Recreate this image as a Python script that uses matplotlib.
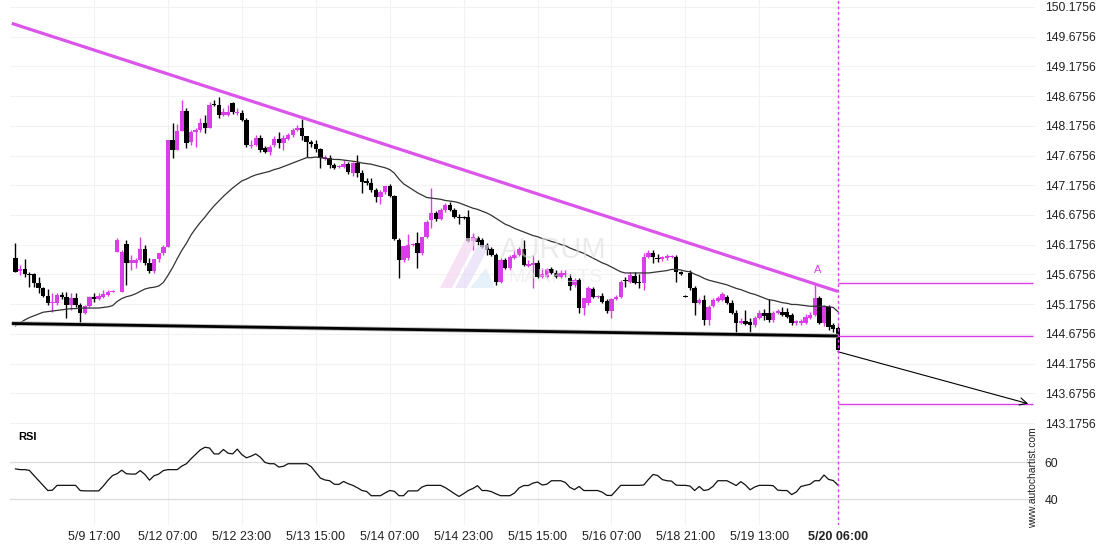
import matplotlib
matplotlib.use('Agg')
import matplotlib.pyplot as plt
from matplotlib.patches import Polygon
import numpy as np

plt.rcParams['font.family'] = ['Liberation Sans', 'DejaVu Sans']

# ---------------- data (hourly bars) ----------------
opens = [145.95,145.73,145.77,145.68,145.68,145.53,145.45,145.31,145.19,145.19,
145.33,145.30,145.16,145.28,145.16,145.03,145.14,145.30,145.26,145.30,
145.33,145.38,146.05,145.38,146.19,145.87,145.87,145.92,146.10,145.87,
145.73,145.94,146.04,146.14,147.94,147.77,148.09,148.43,147.90,148.07,
148.11,148.22,148.14,148.54,148.53,148.36,148.36,148.56,148.39,148.39,
148.27,147.84,147.85,147.97,147.80,147.74,147.85,147.95,147.89,147.95,
148.02,148.11,148.14,148.00,147.90,147.87,147.79,147.62,147.63,147.52,
147.48,147.48,147.53,147.38,147.55,147.38,147.25,147.21,147.10,146.98,
147.06,147.16,146.99,146.26,145.92,145.95,146.17,146.20,146.04,146.30,
146.59,146.71,146.61,146.76,146.84,146.76,146.64,146.64,146.64,146.24,
146.29,146.26,146.17,146.10,146.00,145.55,145.92,145.78,145.95,146.00,
146.10,145.82,145.83,145.87,145.63,145.63,145.77,145.70,145.63,145.67,
145.62,145.50,145.58,145.11,145.19,145.43,145.30,145.31,145.23,145.06,
145.26,145.30,145.58,145.55,145.65,145.55,145.53,145.97,146.04,145.95,
145.94,145.95,145.97,145.97,145.72,145.31,145.70,145.45,145.19,145.25,
144.91,145.14,145.23,145.25,145.30,145.19,145.03,144.86,144.89,144.88,
144.82,144.94,145.03,145.03,144.91,145.03,145.04,145.04,144.99,144.86,
144.86,144.86,144.94,144.99,145.28,144.86,145.13,144.82,144.77]

highs = [146.20,145.83,145.94,145.72,145.70,145.63,145.46,145.43,145.36,145.36,
145.38,145.38,145.36,145.36,145.19,145.16,145.31,145.36,145.36,145.41,
145.41,145.41,146.29,146.09,146.26,146.00,145.95,146.30,146.17,145.95,
145.88,146.00,146.17,147.94,148.22,148.21,148.61,148.48,148.11,148.14,
148.31,148.36,148.58,148.61,148.66,148.48,148.53,148.58,148.48,148.44,
148.31,147.94,148.02,148.02,147.84,147.85,148.00,148.07,148.02,148.05,
148.14,148.19,148.29,148.00,147.94,147.94,147.80,147.69,147.69,147.55,
147.52,147.60,147.57,147.57,147.69,147.43,147.30,147.30,147.13,147.10,
147.16,147.20,147.01,146.29,146.15,146.36,146.20,146.39,146.30,146.59,
147.13,146.74,146.79,146.88,146.89,146.79,146.69,146.66,146.76,146.37,
146.32,146.29,146.20,146.14,146.04,145.95,145.95,146.00,146.09,146.14,
146.26,145.92,146.00,145.92,145.78,145.78,145.80,145.75,145.75,145.75,
145.68,145.62,145.62,145.28,145.48,145.46,145.33,145.36,145.26,145.28,
145.33,145.58,145.63,145.72,145.72,145.68,146.04,146.09,146.09,146.02,
145.99,146.02,146.00,146.00,145.73,145.33,145.75,145.48,145.28,145.33,
145.16,145.28,145.31,145.38,145.33,145.25,145.08,144.94,145.08,144.94,
144.98,145.08,145.09,145.26,145.06,145.09,145.13,145.11,145.03,144.91,
144.93,145.01,145.04,145.53,145.31,145.16,145.16,144.86,144.81]

lows = [145.72,145.67,145.63,145.46,145.46,145.36,145.30,145.16,145.04,145.16,
145.26,144.94,145.08,145.13,144.84,145.01,145.13,145.21,145.25,145.28,
145.31,145.38,146.05,145.38,145.50,145.75,145.78,145.88,145.83,145.70,
145.70,145.88,146.00,146.14,147.63,147.77,148.09,147.80,147.85,147.82,
148.07,148.06,148.14,148.51,148.31,148.34,148.34,148.37,148.36,148.26,
147.82,147.80,147.84,147.74,147.72,147.69,147.82,147.80,147.77,147.94,
147.99,148.09,147.94,147.65,147.82,147.74,147.47,147.60,147.47,147.45,
147.47,147.47,147.37,147.33,147.32,147.05,147.18,147.06,146.89,146.86,
147.03,146.98,146.26,145.62,145.88,145.92,146.15,145.78,146.00,146.29,
146.46,146.57,146.59,146.73,146.74,146.62,146.52,146.61,146.22,146.09,
146.17,146.12,146.00,145.99,145.50,145.53,145.77,145.75,145.94,145.99,
145.82,145.80,145.45,145.62,145.62,145.62,145.68,145.62,145.62,145.63,
145.41,145.46,145.03,144.99,145.16,145.28,145.28,145.19,145.03,144.94,
145.25,145.28,145.46,145.53,145.51,145.45,145.41,145.95,145.87,145.88,
145.90,145.92,145.95,145.55,145.67,145.30,145.41,144.99,145.18,144.82,
144.82,145.13,145.21,145.23,145.18,145.01,144.69,144.84,144.82,144.71,
144.79,144.93,144.91,144.88,144.88,145.01,144.98,144.94,144.82,144.82,
144.82,144.84,144.93,144.98,144.84,144.81,144.74,144.71,144.40]

closes = [145.72,145.77,145.68,145.67,145.53,145.45,145.31,145.19,145.21,145.33,
145.30,145.16,145.28,145.16,145.03,145.14,145.30,145.26,145.31,145.35,
145.38,145.40,146.26,146.05,145.87,145.92,145.92,146.10,145.87,145.73,
145.94,146.04,146.14,147.94,147.77,148.09,148.43,147.89,148.07,148.11,
148.22,148.14,148.53,148.53,148.36,148.41,148.41,148.41,148.41,148.27,
147.85,147.85,147.97,147.77,147.74,147.82,147.95,147.89,147.97,148.02,
148.11,148.14,148.00,147.90,147.87,147.79,147.63,147.65,147.52,147.47,
147.50,147.53,147.40,147.55,147.38,147.23,147.21,147.10,146.98,147.06,
147.16,146.99,146.27,145.92,146.15,146.17,146.19,146.04,146.30,146.56,
146.71,146.61,146.76,146.84,146.76,146.64,146.63,146.62,146.24,146.30,
146.22,146.14,146.09,146.00,145.55,145.92,145.78,145.97,146.00,146.10,
145.83,145.85,145.87,145.63,145.68,145.77,145.70,145.63,145.70,145.70,
145.48,145.58,145.11,145.28,145.45,145.30,145.31,145.21,145.06,145.26,
145.30,145.55,145.57,145.67,145.53,145.53,145.97,146.04,145.97,145.94,
145.97,145.99,145.99,145.72,145.68,145.30,145.45,145.19,145.25,144.91,
145.13,145.25,145.28,145.35,145.19,145.03,144.86,144.89,144.84,144.82,
144.94,145.03,144.98,144.91,145.03,145.06,144.99,144.96,144.86,144.89,
144.89,144.96,144.99,145.28,144.86,145.13,144.79,144.76,144.40]

moving_avg = [144.81,144.86,144.91,144.95,144.98,145.01,145.04,145.05,145.06,145.07,
145.08,145.09,145.10,145.10,145.11,145.11,145.11,145.11,145.11,145.12,
145.13,145.15,145.22,145.27,145.30,145.32,145.35,145.39,145.43,145.45,
145.46,145.48,145.54,145.66,145.79,145.94,146.08,146.20,146.34,146.45,
146.55,146.64,146.74,146.83,146.91,146.99,147.06,147.13,147.19,147.25,
147.28,147.32,147.35,147.37,147.39,147.41,147.44,147.46,147.49,147.52,
147.55,147.58,147.61,147.64,147.64,147.65,147.64,147.63,147.62,147.61,
147.61,147.60,147.59,147.58,147.57,147.55,147.54,147.53,147.51,147.49,
147.47,147.44,147.38,147.28,147.20,147.15,147.10,147.05,147.01,146.97,
146.96,146.95,146.94,146.92,146.91,146.90,146.88,146.85,146.82,146.79,
146.77,146.74,146.71,146.67,146.62,146.57,146.52,146.49,146.45,146.42,
146.39,146.36,146.33,146.31,146.28,146.26,146.23,146.21,146.18,146.16,
146.12,146.09,146.06,146.03,145.99,145.95,145.91,145.87,145.84,145.80,
145.76,145.72,145.70,145.70,145.70,145.70,145.70,145.70,145.71,145.72,
145.73,145.74,145.76,145.76,145.75,145.73,145.72,145.68,145.65,145.61,
145.58,145.56,145.54,145.52,145.50,145.47,145.44,145.42,145.39,145.36,
145.34,145.31,145.28,145.25,145.24,145.22,145.20,145.19,145.17,145.17,
145.16,145.15,145.14,145.14,145.14,145.14,145.13,145.12,145.05]

rsi = [56.3,55.9,55.9,55.5,52.7,50.0,47.3,44.6,44.8,47.4,
47.4,47.4,47.4,47.4,44.6,44.4,44.4,44.4,44.4,47.0,
50.1,52.7,53.7,55.6,53.7,53.5,53.5,55.4,53.3,50.2,
52.6,53.5,55.4,55.9,55.9,55.9,57.8,59.1,61.8,64.2,
66.6,68.0,67.6,64.4,64.4,66.8,64.8,64.4,67.0,64.0,
62.3,63.2,64.4,62.6,59.8,59.1,59.1,57.3,57.7,59.1,
59.1,59.1,59.1,59.1,57.5,54.4,51.3,50.3,49.9,48.0,
47.9,49.5,48.3,47.4,46.1,44.6,44.1,41.8,41.8,41.8,
43.3,44.6,44.2,41.8,41.8,44.4,44.4,44.4,46.5,47.4,
47.4,47.4,47.4,46.2,44.6,42.9,41.4,42.9,44.6,45.7,
47.2,44.6,44.6,44.0,42.8,41.8,41.8,41.8,43.2,46.0,
47.3,47.3,48.6,49.2,47.6,48.0,49.9,49.9,49.9,49.0,
46.3,45.1,46.8,44.6,44.6,44.6,44.6,43.7,42.0,41.9,
44.6,47.4,47.4,47.4,47.4,47.4,47.6,50.6,53.3,52.7,
50.5,49.9,49.7,47.5,47.4,47.4,47.0,44.6,46.8,44.6,
45.1,46.9,49.9,49.9,49.9,48.6,47.3,49.4,47.6,45.0,
46.5,47.4,47.4,47.4,47.2,44.8,44.6,44.6,42.4,43.8,
46.8,47.4,48.0,49.9,49.9,53.0,50.6,50.0,47.6]

# x tick labels (bar index -> time label)
xtick_bars = [17, 33, 49, 65, 81, 97, 113, 129, 145, 161, 178]
xtick_labels = ['5/9 17:00', '5/12 07:00', '5/12 23:00', '5/13 15:00', '5/14 07:00',
                '5/14 23:00', '5/15 15:00', '5/16 07:00', '5/18 21:00', '5/19 13:00',
                '5/20 06:00']
ytick_values = [143.1756, 143.6756, 144.1756, 144.6756, 145.1756, 145.6756, 146.1756,
                146.6756, 147.1756, 147.6756, 148.1756, 148.6756, 149.1756, 149.6756,
                150.1756]
rsi_ticks = [40, 60]

# pattern (triangle) lines and forecast
resistance_x = [-0.8, 178]
resistance_y = [149.90, 145.39]
support_x = [-0.8, 178]
support_y = [144.85, 144.64]
breakout_bar = 178
level_A = 145.53
level_break = 144.64
level_target = 143.50
forecast_start = (178, 144.375)
forecast_end = (219.2, 143.50)
level_end_bar = 220.2
point_A = (173.7, 145.75)

# ---------------- drawing ----------------
W, H = 1110, 550
MAG = '#d93ee8'
RES = '#dc55ea'

fig = plt.figure(figsize=(W / 100, H / 100), dpi=100)
fig.patch.set_facecolor('white')

ax = fig.add_axes([10 / W, 1 - 431 / H, 1025 / W, 431 / H])
axr = fig.add_axes([10 / W, 1 - 525 / H, 1025 / W, 94 / H], sharex=ax)

o = np.array(opens); h = np.array(highs); l = np.array(lows); c = np.array(closes)
idx = np.arange(len(c))
cols = np.where(c >= o, MAG, '#000000')

# candles
ax.vlines(idx, l, h, colors=cols, lw=1.0, zorder=3)
body_bottom = np.minimum(o, c)
body_h = np.maximum(np.abs(c - o), 0.014)
ax.bar(idx, body_h, bottom=body_bottom, width=0.95, color=cols, linewidth=0, zorder=3)

# moving average
ax.plot(idx, moving_avg, color='#333333', lw=0.9, zorder=4)

# triangle lines
ax.plot(resistance_x, resistance_y, color=RES, lw=2.3, solid_capstyle='butt', zorder=5)
ax.plot(support_x, support_y, color='#b8b8b8', lw=3.2, solid_capstyle='butt', zorder=5)
ax.plot(support_x, support_y, color='#000000', lw=2.0, solid_capstyle='butt', zorder=6)

# levels
ax.hlines([level_A, level_break, level_target], breakout_bar, level_end_bar,
          color=MAG, lw=1.0, zorder=5)
ax.annotate('', xy=forecast_end, xytext=forecast_start,
            arrowprops=dict(arrowstyle='->', color='black', lw=0.8,
                            shrinkA=0, shrinkB=0, mutation_scale=13), zorder=6)
ax.text(point_A[0], point_A[1], 'A', color=MAG, fontsize=8, ha='center', va='center')

for a in (ax, axr):
    a.axvline(breakout_bar, color=MAG, lw=1.0, ls=(0, (2, 2)), zorder=7)
    for s in a.spines.values():
        s.set_visible(False)

ax.set_xlim(-1.19, 220.67)
ax.set_ylim(143.041, 150.293)
ax.set_yticks(ytick_values)
ax.set_yticklabels(['%.4f' % v for v in ytick_values])
ax.yaxis.tick_right()
ax.tick_params(axis='y', length=0, pad=7, labelsize=8.8, labelcolor='#222222')
ax.tick_params(axis='x', length=0, labelbottom=False)
ax.set_xticks(xtick_bars)
ax.grid(True, color='#f2f2f2', lw=0.8, zorder=0)
ax.set_axisbelow(True)

# RSI panel
axr.plot(idx, rsi, color='#111111', lw=0.9, zorder=4)
axr.set_ylim(25.95, 76.8)
axr.set_yticks(rsi_ticks)
axr.yaxis.tick_right()
axr.tick_params(axis='y', length=0, pad=7, labelsize=8.8, labelcolor='#222222')
axr.set_xticks(xtick_bars)
axr.set_xticklabels(xtick_labels)
axr.tick_params(axis='x', length=0, pad=4, labelsize=9, labelcolor='#222222')
axr.get_xticklabels()[-1].set_fontweight('bold')
axr.grid(True, axis='y', color='#dcdcdc', lw=0.9, zorder=0)
axr.grid(True, axis='x', color='#f2f2f2', lw=0.8, zorder=0)
axr.set_axisbelow(True)

fig.text(18 / W, 1 - 437 / H, 'RSI', fontsize=8, fontweight='bold', va='center', ha='left')
fig.text(1033 / W, 1 - 478 / H, 'www.autochartist.com', rotation=90, fontsize=7.5,
         ha='center', va='center', color='#222222')

# faint watermark
def P(x, y):
    return (x / W, 1 - y / H)
wm = [([P(440, 288), P(452, 288), P(478, 238), P(466, 238)], '#f4d6f2'),
      ([P(455, 288), P(467, 288), P(490, 245), P(478, 245)], '#e6dcf6'),
      ([P(470, 288), P(495, 288), P(486, 268)], '#dcecf7')]
for pts, col in wm:
    fig.patches.append(Polygon(pts, closed=True, transform=fig.transFigure,
                               facecolor=col, edgecolor='none', alpha=0.7, zorder=0.5))
fig.text(553 / W, 1 - 250 / H, 'AURUM', fontsize=21, color='#dedede', alpha=0.6,
         ha='center', va='center')
fig.text(556 / W, 1 - 277 / H, 'MARKETS', fontsize=14, color='#e8e8e8', alpha=0.6,
         ha='center', va='center')

fig.savefig('out.png', dpi=100, facecolor='white')
